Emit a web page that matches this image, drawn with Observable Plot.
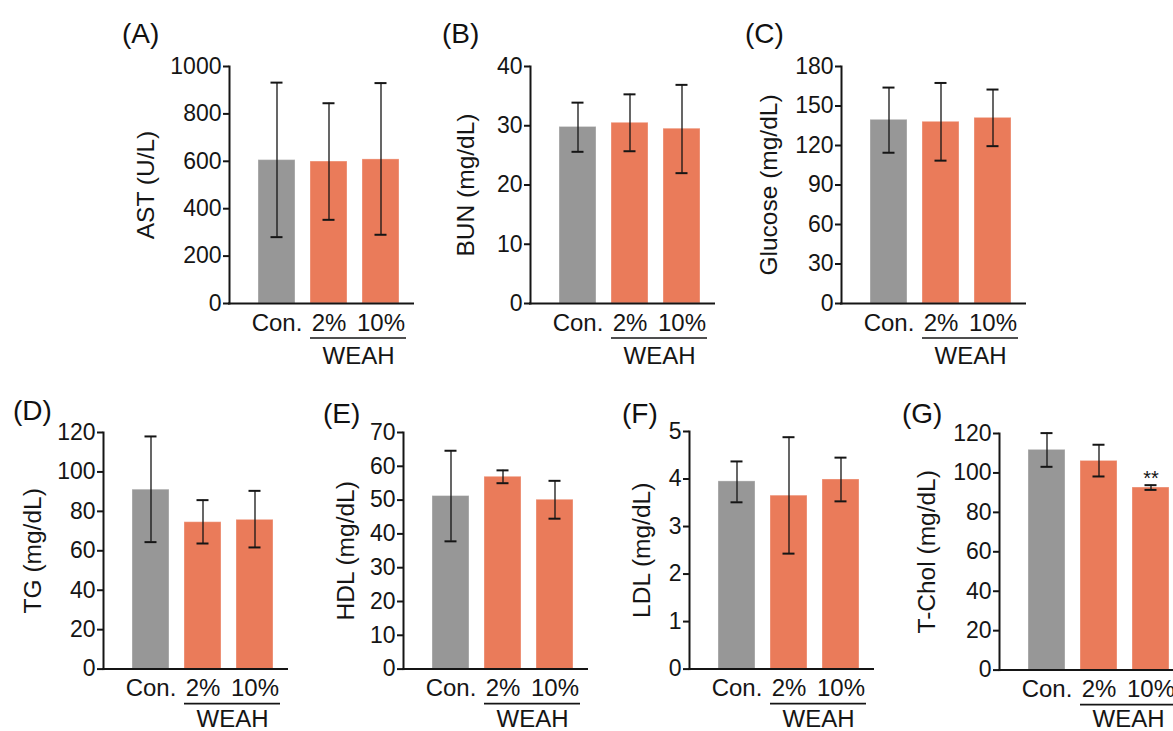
<!DOCTYPE html>
<html><head><meta charset="utf-8">
<script src="https://cdn.jsdelivr.net/npm/d3@7"></script>
<script src="https://cdn.jsdelivr.net/npm/@observablehq/plot@0.6"></script>
<style>
html,body{margin:0;padding:0;background:#fff;overflow:hidden;}
#fig{position:relative;width:1173px;height:731px;overflow:hidden;font-family:"Liberation Sans",Arial,sans-serif;background:#fff;}
.panel{position:absolute;}
.letter{position:absolute;font-size:28px;line-height:1;color:#111;white-space:nowrap;}
</style></head><body><div id="fig"></div>
<script>
// ---------- data ----------
const groups = ["Con.", "2%", "10%"];
const treatment = "WEAH";
const treatedGroups = ["2%", "10%"];

const astMean = [605, 599, 608];
const astUpper = [932, 845, 930];
const astLower = [280, 353, 290];
const astTicks = [0, 200, 400, 600, 800, 1000];

const bunMean = [29.8, 30.5, 29.5];
const bunUpper = [33.9, 35.3, 36.9];
const bunLower = [25.6, 25.7, 22.0];
const bunTicks = [0, 10, 20, 30, 40];

const gluMean = [139.5, 138, 141];
const gluUpper = [164, 167.5, 162.5];
const gluLower = [114.5, 108.5, 119.5];
const gluTicks = [0, 30, 60, 90, 120, 150, 180];

const tgMean = [91, 74.5, 75.7];
const tgUpper = [118, 85.7, 90.4];
const tgLower = [64.4, 63.7, 61.7];
const tgTicks = [0, 20, 40, 60, 80, 100, 120];

const hdlMean = [51.2, 56.9, 50.1];
const hdlUpper = [64.6, 58.8, 55.7];
const hdlLower = [37.8, 55.0, 44.5];
const hdlTicks = [0, 10, 20, 30, 40, 50, 60, 70];

const ldlMean = [3.95, 3.65, 3.99];
const ldlUpper = [4.37, 4.88, 4.45];
const ldlLower = [3.51, 2.43, 3.53];
const ldlTicks = [0, 1, 2, 3, 4, 5];

const tcMean = [111.7, 106.1, 92.6];
const tcUpper = [120.2, 114.3, 93.8];
const tcLower = [103.1, 98.2, 91.4];
const tcTicks = [0, 20, 40, 60, 80, 100, 120];
const tcSig = ["", "", "**"];
const noSig = ["", "", ""];

// ---------- layout / style ----------
const GRAY = "#979797", ORANGE = "#EA7B5A", INK = "#151515";
const FONT = "'Liberation Sans', Arial, Helvetica, sans-serif";
const FRAME_W = 185, ML = 110, MT = 12, MR = 14, MB = 78;

const panels = [
  {letter:"(A)", label:"AST (U/L)", mean:astMean, hi:astUpper, lo:astLower, sig:noSig, ticks:astTicks, x0:229, yTop:65.7, y0:302.7, labelOffset:93, lx:122, ly:20, wy:60.5},
  {letter:"(B)", label:"BUN (mg/dL)", mean:bunMean, hi:bunUpper, lo:bunLower, sig:noSig, ticks:bunTicks, x0:530, yTop:65.7, y0:302.7, labelOffset:74, lx:442, ly:20, wy:60.5},
  {letter:"(C)", label:"Glucose (mg/dL)", mean:gluMean, hi:gluUpper, lo:gluLower, sig:noSig, ticks:gluTicks, x0:841, yTop:65.7, y0:302.7, labelOffset:82, lx:745, ly:20, wy:60.5},
  {letter:"(D)", label:"TG (mg/dL)", mean:tgMean, hi:tgUpper, lo:tgLower, sig:noSig, ticks:tgTicks, x0:103, yTop:431.7, y0:668.3, labelOffset:80, lx:13, ly:397, wy:57.5},
  {letter:"(E)", label:"HDL (mg/dL)", mean:hdlMean, hi:hdlUpper, lo:hdlLower, sig:noSig, ticks:hdlTicks, x0:403.3, yTop:431.7, y0:668.3, labelOffset:67, lx:323, ly:400, wy:57.5},
  {letter:"(F)", label:"LDL (mg/dL)", mean:ldlMean, hi:ldlUpper, lo:ldlLower, sig:noSig, ticks:ldlTicks, x0:689, yTop:430.7, y0:668.3, labelOffset:57, lx:622, ly:400, wy:57.5},
  {letter:"(G)", label:"T-Chol (mg/dL)", mean:tcMean, hi:tcUpper, lo:tcLower, sig:tcSig, ticks:tcTicks, x0:999, yTop:432.7, y0:669.3, labelOffset:82, lx:902, ly:400, wy:56.5}
];

const fig = document.getElementById("fig");

for (const p of panels) {
  const rows = groups.map((g, i) => ({group: g, mean: p.mean[i], hi: p.hi[i], lo: p.lo[i], sig: p.sig[i]}));
  const H = p.y0 - p.yTop;
  const W = ML + FRAME_W + MR;
  const bracket = [{y: 0, a: treatedGroups[0], b: treatedGroups[1], text: treatment}];
  const plot = Plot.plot({
    width: W, height: MT + H + MB,
    marginLeft: ML, marginTop: MT, marginRight: MR, marginBottom: MB,
    style: {background: "transparent", overflow: "visible", maxWidth: "none", fontFamily: FONT, color: INK},
    x: {domain: groups, paddingInner: 15/52, paddingOuter: 0, insetLeft: 29, insetRight: 15},
    y: {domain: [0, p.ticks[p.ticks.length - 1]], nice: false},
    color: {domain: groups, range: [GRAY, ORANGE, ORANGE]},
    marks: [
      Plot.barY(rows, {x: "group", y: "mean", fill: "group", stroke: "white", strokeOpacity: 0.35, strokeWidth: 1}),
      Plot.ruleX(rows, {x: "group", y1: "lo", y2: "hi", stroke: INK, strokeWidth: 1.3}),
      Plot.tickY(rows, {x: "group", y: "hi", stroke: INK, strokeWidth: 2, insetLeft: 12.5, insetRight: 12.5}),
      Plot.tickY(rows, {x: "group", y: "lo", stroke: INK, strokeWidth: 2, insetLeft: 12.5, insetRight: 12.5}),
      Plot.text(rows, {x: "group", y: "hi", text: "sig", lineAnchor: "bottom", fontSize: 20, fill: INK, dy: 0}),
      Plot.axisY({ticks: p.ticks, tickSize: 6, tickPadding: 2, fontSize: 23, strokeWidth: 2, label: null, tickFormat: d => String(d)}),
      Plot.axisY({ticks: [], label: p.label, labelAnchor: "center", labelOffset: p.labelOffset, labelArrow: "none", fontSize: 24.5}),
      Plot.axisX({tickSize: 0, tickPadding: 10, fontSize: 24, label: null}),
      Plot.frame({anchor: "left", stroke: INK, strokeWidth: 2}),
      Plot.ruleY([0], {stroke: INK, strokeWidth: 2, insetLeft: -1}),
      Plot.ruleY(bracket, {y: "y", x1: "a", x2: "b", dy: 34.5, insetRight: -7, stroke: INK, strokeWidth: 1.7}),
      Plot.text(bracket, {x: "b", y: "y", text: "text", dx: -22.5, dy: p.wy, lineAnchor: "bottom", fontSize: 24, fill: INK})
    ]
  });
  const div = document.createElement("div");
  div.className = "panel";
  div.style.left = (p.x0 - ML) + "px";
  div.style.top = (p.yTop - MT) + "px";
  div.style.width = W + "px";
  div.appendChild(plot);
  fig.appendChild(div);

  const lab = document.createElement("div");
  lab.className = "letter";
  lab.style.left = p.lx + "px";
  lab.style.top = p.ly + "px";
  lab.textContent = p.letter;
  fig.appendChild(lab);
}
</script>
</body></html>
